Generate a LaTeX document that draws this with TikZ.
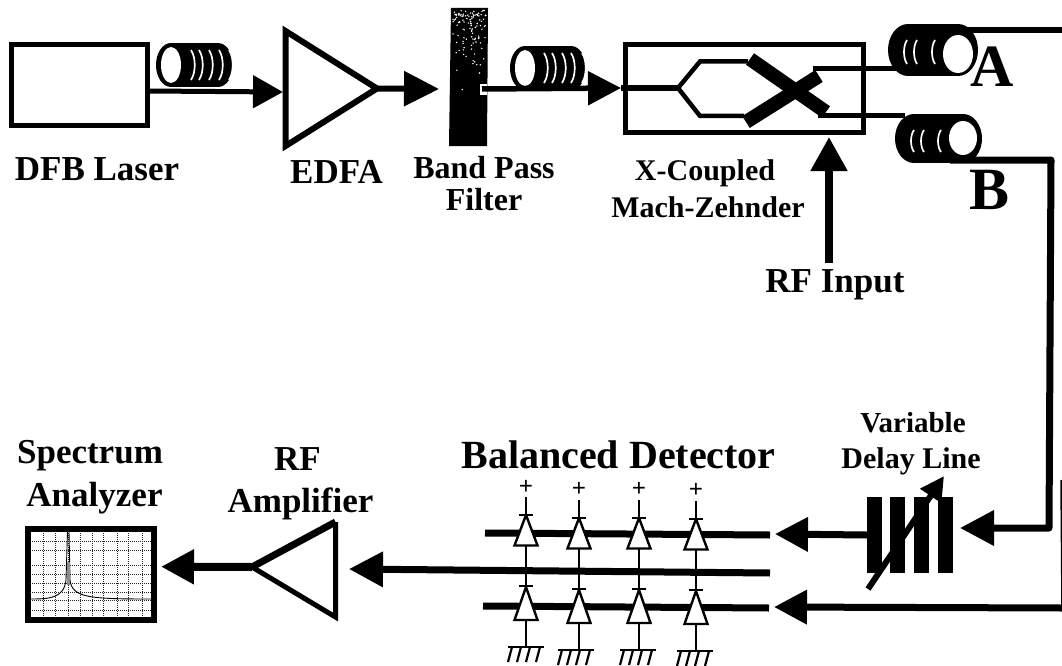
\documentclass[tikz,border=0pt]{standalone}
\usepackage{fontspec}
\setmainfont{Liberation Serif}
\usetikzlibrary{arrows.meta}
\newcommand{\txt}[5]{\node[lbl,font=\fontsize{#3}{#3}\selectfont\bfseries] (#1) at (#2) {#4#5};}
% coil: front loop on the left, body running to the right
\newcommand{\coilFR}[5]{% cx, cy, length, rx, ry
  \fill[black] (#1,#2) ellipse [x radius=#4,y radius=#5];
  \fill[black] (#1+#3,#2) ellipse [x radius=#4,y radius=#5];
  \fill[black] (#1,#2-#5) rectangle (#1+#3,#2+#5);
}
\newcommand{\cres}[4]{% x, cy, halfheight, bulge
  \draw[white,line width=1.7pt] (#1,#2-#3) .. controls (#1+#4,#2-#3*0.5) and (#1+#4,#2+#3*0.5) .. (#1,#2+#3);
}
\tikzset{
  lbl/.style={anchor=base,inner sep=0pt,outer sep=0pt,text=black},
  wire/.style={draw=black,line width=#1,line join=miter},
  wire/.default=6pt,
  boxn/.style={draw=black,line width=5pt,fill=white,inner sep=0pt,outer sep=0pt},
  diode/.style={draw=black,line width=2.4pt,fill=white,line join=miter},
  thin/.style={draw=black,line width=2.4pt},
  gridln/.style={draw=black!85,line width=1pt,densely dotted}
}
\begin{document}
\begin{tikzpicture}[x=1pt,y=-1pt]
\useasboundingbox (0,0) rectangle (1062,666);
\fill[white] (0,0) rectangle (1062,666);

% ---------- coils (drawn first, wires pass over them)
\coilFR{171}{65}{47}{15}{22}
\foreach \x in {191,199,209,219,229}{\cres{\x}{65}{15}{5}}
\fill[white] (171,65) ellipse [x radius=10,y radius=18];
\coilFR{525}{68}{46}{15}{22}
\foreach \x in {544,552,562,571,582}{\cres{\x}{68}{15}{5}}
\fill[white] (525,68) ellipse [x radius=10,y radius=18];
% coil A
\coilFR{908}{50}{50}{20}{26}
\foreach \x in {907,917,935}{\cres{\x}{52}{12}{-4}}
\fill[white] (958,54) ellipse [x radius=15,y radius=19];
% coil B
\coilFR{914}{138.5}{49}{19}{24.5}
\foreach \x in {914,924,941}{\cres{\x}{141}{11}{-4}}
\fill[white] (963,138) ellipse [x radius=14,y radius=17];

% ---------- top row
\node[boxn,minimum width=136pt,minimum height=81pt] (laser) at (79,85.5) {};
\coordinate (edfaW) at (283,92);
\coordinate (edfaTop) at (285.5,31);
\coordinate (edfaBot) at (285.5,146);
\coordinate (edfaTip) at (377,88.5);
\draw[wire=6pt] (edfaTop) -- (edfaBot) -- (edfaTip) -- cycle;

\path[fill=black] (451,8) -- (488,8) -- (487,146) -- (449,146) -- cycle;
\coordinate (filterIn) at (439,89);
\coordinate (filterOut) at (482,89);
\pgfmathsetseed{11}
\foreach \i in {1,...,110}{
  \pgfmathsetmacro\px{453+33*rnd}
  \pgfmathsetmacro\py{10+78*rnd*rnd+5*rnd}
  \fill[white] (\px,\py) circle (0.8);
}
\fill[white] (480,84) rectangle (487,95);

\node[boxn,fill=none,minimum width=238pt,minimum height=88pt] (mz) at (744,88.5) {};
\coordinate (mzIn) at (621,88);
\coordinate (split) at (678,88);
\coordinate (u1) at (700,61.5);
\coordinate (u2) at (748,61.5);
\coordinate (l1) at (700,116);
\coordinate (l2) at (744,116);
\coordinate (xa1) at (750,59);
\coordinate (xa2) at (826,112);
\coordinate (xb1) at (746,122);
\coordinate (xb2) at (819,76);
\coordinate (r1) at (813,69);
\coordinate (r2) at (818,115.5);
\coordinate (coilAin) at (905,69);
\coordinate (coilBin) at (905,115.5);

\draw[wire=5pt,-{Triangle[length=30pt,width=32pt]}] (laser.east |- 0,91) coordinate (la) -- (edfaW);
\draw[wire=6pt,-{Triangle[length=35pt,width=34pt]}] (edfaTip) -- (filterIn);
\draw[wire=5.5pt,-{Triangle[length=33pt,width=33pt]}] (filterOut) -- (mzIn);
\draw[wire=5.5pt] (mzIn) -- (split);
\draw[wire=4.5pt] (split) -- (u1) -- (u2);
\draw[wire=4.5pt] (split) -- (l1) -- (l2);
\draw[wire=14pt] (xa1) -- (xa2);
\draw[wire=14pt] (xb1) -- (xb2);
\draw[wire=5pt] (r1) -- (coilAin);
\draw[wire=5pt] (r2) -- (coilBin);

% RF input
\coordinate (rfIn) at (829,263);
\coordinate (mzS) at (829,137);
\draw[wire=8pt,-{Triangle[length=34pt,width=35pt]}] (rfIn) -- (mzS);

% outgoing fibres
\coordinate (aOut) at (962,30.5);
\coordinate (edgeTop) at (1062,30.5);
\coordinate (bOut) at (950,160);
\coordinate (bCorner) at (1051,160);
\coordinate (bDown) at (1049,528);
\coordinate (vdlIn) at (960,528);
\draw[wire=6pt] (aOut) -- (edgeTop);
\draw[wire=7pt,line join=round,-{Triangle[length=34pt,width=34pt]}] (bOut) -- (bCorner) -- (bDown) -- (vdlIn);

% ---------- variable delay line
\foreach \x in {867,890,914,938}{\fill[black] (\x,497) rectangle (\x+15,572.5);}
\coordinate (vdlW) at (867,535);
\coordinate (bdA) at (775,534);
\draw[wire=7pt,-{Triangle[length=33pt,width=33pt]}] (vdlW) -- (bdA);
\coordinate (vs) at (868,589);
\coordinate (ve) at (944,476);
\draw[line width=6pt,draw=black,-{Triangle[length=24pt,width=24pt]}] (vs) -- (ve);

% ---------- bottom fibre
\coordinate (edgeB) at (1062,608);
\coordinate (bdB) at (774,607);
\draw[wire=7pt,-{Triangle[length=33pt,width=33pt]}] (edgeB) -- (bdB);
\coordinate (edgeT) at (1061,480);
\draw[wire=1.5pt] (edgeT) -- (edgeB);

% ---------- balanced detector
\coordinate (busAw) at (485,533);  \coordinate (busAe) at (770,535);
\coordinate (busBe) at (770,573);  \coordinate (ampIn) at (349,569);
\coordinate (busCw) at (483,606);  \coordinate (busCe) at (769,608);
\draw[wire=7pt] (busAw) -- (busAe);
\draw[wire=7pt] (busCw) -- (busCe);
\draw[wire=7pt,-{Triangle[length=34pt,width=34pt]}] (busBe) -- (ampIn);

\foreach \cx/\dy/\gw/\plusy in {526/0/526/486,579/3/576/488,639/3/638/488,696/4/695/489}{
  \begin{scope}[yshift={-\dy pt}]
    \draw[thin] (\cx,497) -- (\cx,647);
    \draw[thin] (\cx-7,515) -- (\cx+7,515);
    \draw[thin] (\cx-7,586) -- (\cx+7,586);
    \draw[diode] (\cx,515) -- (\cx+11.5,545.5) -- (\cx-11.5,545.5) -- cycle;
    \draw[diode] (\cx,587) -- (\cx+11.5,620) -- (\cx-11.5,620) -- cycle;
    \draw[thin] (\gw-18,647) -- (\gw+18,647);
    \foreach \k in {-14,-5,4,14}{\draw[line width=2.2pt] (\gw+\k,647) -- (\gw+\k-4,662);}
  \end{scope}
  \node[lbl,font=\fontsize{25}{25}\selectfont\bfseries] at (\cx,\plusy+8) {+};
}

% ---------- RF amplifier
\coordinate (ampTip) at (252,567);
\coordinate (ampT) at (335.5,522);
\coordinate (ampB) at (335.5,617);
\draw[wire=5pt] (ampT) -- (ampB) -- (ampTip);
\draw[wire=7pt] (ampTip) -- (ampT);

% ---------- spectrum analyzer
\node[draw=black,line width=6pt,fill=white,inner sep=0pt,outer sep=0pt,minimum width=126pt,minimum height=91pt] (sa) at (91,574.5) {};
\foreach \y in {541,550,565,574,583,592,600,610}{\draw[gridln] (30,\y) -- (152,\y);}
\foreach \x in {43,55,68,80,92,103,117,128,142}{\draw[gridln] (\x,531) -- (\x,618);}
\draw[black,line width=.9pt] (31,599) .. controls (50,599) and (64,598) .. (66,580) -- (67.5,532)
  (69,532) -- (70,580) .. controls (72,598) and (90,599) .. (152,599);
\fill[black!45] (66.5,562) rectangle (69.5,585);
\coordinate (saE) at (161,566.7);
\draw[wire=8pt,-{Triangle[length=33pt,width=33pt]}] (ampTip) -- (saE);

% ---------- labels
\txt{tDFB}{97,180}{35}{DFB Laser}{}
\txt{tEDFA}{336.5,183}{35}{EDFA}{}
\txt{tBand}{484,178}{32}{Band Pass}{}
\txt{tFilter}{484,210}{32}{Filter}{}
\txt{tX}{705,180}{30}{X-Coupled}{}
\txt{tMach}{708,217}{30}{Mach-Zehnder}{}
\txt{tA}{992,87}{60}{A}{}
\txt{tB}{989,209}{60}{B}{}
\txt{tRF}{835,292}{35}{RF Input}{}
\txt{tVar}{913,432}{29}{Variable}{}
\txt{tDelay}{911,468}{30}{Delay Line}{}
\txt{tBal}{618.5,468}{40}{Balanced Detector}{}
\txt{tSpec}{90,463}{35}{Spectrum}{}
\txt{tAna}{94.5,506}{35}{Analyzer}{}
\txt{tRFa}{297.5,470}{35}{RF}{}
\txt{tAmp}{300.5,512.7}{35}{Amplifier}{}
\end{tikzpicture}
\end{document}
